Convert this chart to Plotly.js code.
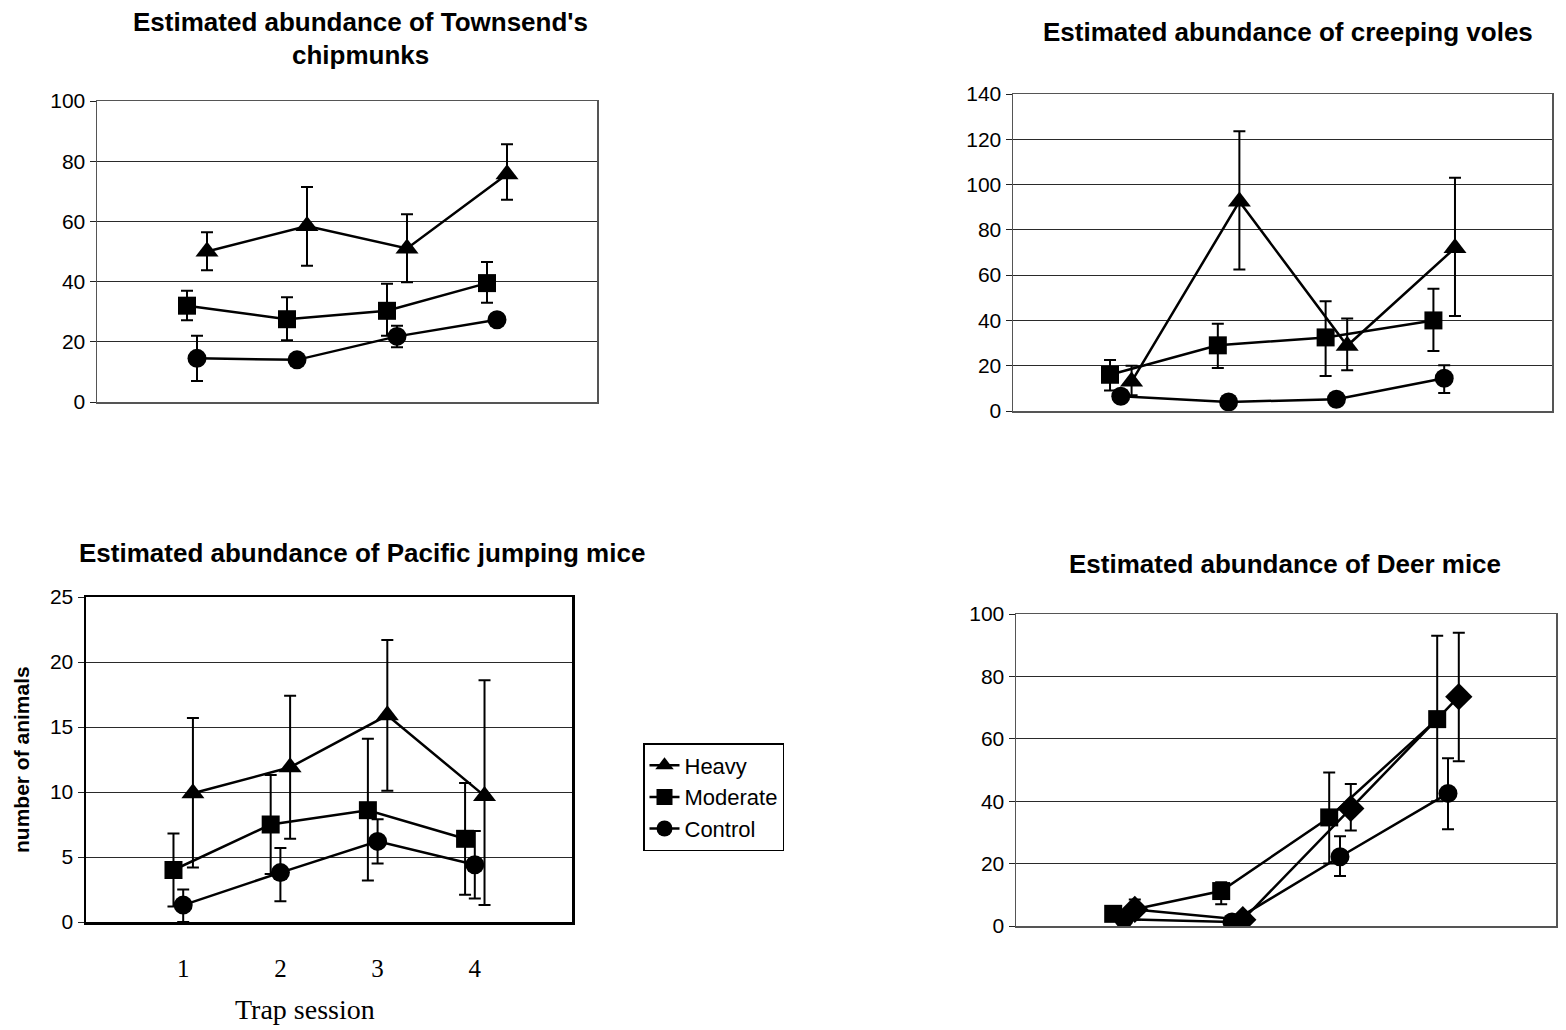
<!DOCTYPE html>
<html>
<head>
<meta charset="utf-8">
<script src="https://cdn.plot.ly/plotly-3.0.1.min.js"></script>
<style>html,body{margin:0;padding:0;background:#fff;}#chart{width:1566px;height:1030px;}</style>
</head>
<body>
<div id="chart"></div>
<script>
// ---- data ----
const sessions = [1, 2, 3, 4];
const seriesNames = ["Heavy", "Moderate", "Control"];

// Townsend's chipmunks
const chipHeavy = [50, 58.5, 51, 75.7];
const chipHeavyHi = [56.4, 71.4, 62.4, 85.6];
const chipHeavyLo = [43.8, 45.3, 39.8, 67.2];
const chipModerate = [32, 27.5, 30.3, 39.5];
const chipModerateHi = [37, 34.8, 39.3, 46.5];
const chipModerateLo = [27.2, 20.5, 22, 33];
const chipControl = [14.5, 14, 21.8, 27.3];
const chipControlHi = [22, 15, 25.3, 28.3];
const chipControlLo = [7, 13, 18.2, 26.3];

// creeping voles
const voleHeavy = [13, 92.5, 28.8, 72];
const voleHeavyHi = [20, 123.5, 40.8, 103];
const voleHeavyLo = [7, 62.5, 18, 42];
const voleModerate = [16, 29, 32.5, 40];
const voleModerateHi = [22.5, 38.5, 48.5, 54];
const voleModerateLo = [9, 19, 15.5, 26.5];
const voleControl = [6.5, 4, 5.2, 14.5];
const voleControlHi = [9, 5, 8, 20.2];
const voleControlLo = [4, 3, 2.5, 8];

// Pacific jumping mice
const jumpHeavy = [9.9, 11.9, 15.9, 9.7];
const jumpHeavyHi = [15.7, 17.4, 21.7, 18.6];
const jumpHeavyLo = [4.2, 6.4, 10.1, 1.3];
const jumpModerate = [4.0, 7.5, 8.6, 6.4];
const jumpModerateHi = [6.8, 11.3, 14.1, 10.7];
const jumpModerateLo = [1.2, 3.7, 3.2, 2.1];
const jumpControl = [1.3, 3.8, 6.2, 4.4];
const jumpControlHi = [2.5, 5.7, 7.9, 7.0];
const jumpControlLo = [0, 1.6, 4.5, 1.8];

// Deer mice
const deerHeavy = [5.3, 2, 37.7, 73.5];
const deerHeavyHi = [8.5, 3, 45.5, 94];
const deerHeavyLo = [2, 1, 30.6, 52.8];
const deerModerate = [3.9, 11.2, 34.8, 66.3];
const deerModerateHi = [5, 14, 49.2, 93];
const deerModerateLo = [2.8, 7, 20, 40];
const deerControl = [2.2, 1.3, 22.2, 42.5];
const deerControlHi = [3, 2, 28.8, 53.8];
const deerControlLo = [1.5, 0.5, 16, 31];

const panelTitles = [
  "Estimated abundance of Townsend's",
  "chipmunks",
  "Estimated abundance of creeping voles",
  "Estimated abundance of Pacific jumping mice",
  "Estimated abundance of Deer mice"
];
const xTickLabels = ["1", "2", "3", "4"];
const yAxisLabel = "number of animals";
const xAxisLabel = "Trap session";

// ---- layout helpers ----
const W = 1566, H = 1030;
const px = v => v / W;
const py = v => 1 - v / H;
const SANS = 'Arial, "Liberation Sans", sans-serif';
const SERIF = '"Times New Roman", "Liberation Serif", serif';

const offsets = { Heavy: 0.1, Moderate: -0.1, Control: 0 };
const symbols = { Heavy: 'triangle-up', Moderate: 'square', Control: 'circle' };
const msize = { Heavy: 20, Moderate: 18, Control: 19, diamond: 21 };

function mk(name, y, hi, lo, xa, ya, showlegend, symbolOverride) {
  return {
    type: 'scatter', mode: 'lines+markers', name: name,
    x: sessions.map(s => s + offsets[name]),
    y: y,
    xaxis: xa, yaxis: ya, showlegend: showlegend,
    line: { color: '#000', width: 2.5 },
    marker: { symbol: symbolOverride || symbols[name], size: symbolOverride ? msize.diamond : msize[name], color: '#000' },
    error_y: {
      type: 'data', symmetric: false,
      array: hi.map((h, i) => h - y[i]),
      arrayminus: lo.map((l, i) => y[i] - l),
      color: '#000', thickness: 2, width: 6
    },
    hoverinfo: 'x+y'
  };
}

const traces = [
  mk('Heavy', chipHeavy, chipHeavyHi, chipHeavyLo, 'x', 'y', false),
  mk('Moderate', chipModerate, chipModerateHi, chipModerateLo, 'x', 'y', false),
  mk('Control', chipControl, chipControlHi, chipControlLo, 'x', 'y', false),

  mk('Heavy', voleHeavy, voleHeavyHi, voleHeavyLo, 'x2', 'y2', false),
  mk('Moderate', voleModerate, voleModerateHi, voleModerateLo, 'x2', 'y2', false),
  mk('Control', voleControl, voleControlHi, voleControlLo, 'x2', 'y2', false),

  mk('Heavy', jumpHeavy, jumpHeavyHi, jumpHeavyLo, 'x3', 'y3', true),
  mk('Moderate', jumpModerate, jumpModerateHi, jumpModerateLo, 'x3', 'y3', true),
  mk('Control', jumpControl, jumpControlHi, jumpControlLo, 'x3', 'y3', true),

  mk('Heavy', deerHeavy, deerHeavyHi, deerHeavyLo, 'x4', 'y4', false, 'diamond'),
  mk('Moderate', deerModerate, deerModerateHi, deerModerateLo, 'x4', 'y4', false),
  mk('Control', deerControl, deerControlHi, deerControlLo, 'x4', 'y4', false)
];

function xax(l, r, anchor, showTicks, lineColor, lineWidth) {
  const a = {
    domain: [px(l), px(r)], anchor: anchor, range: [0, 5],
    showgrid: false, zeroline: false, showline: true, mirror: true,
    linecolor: lineColor, linewidth: lineWidth, fixedrange: true
  };
  if (showTicks) {
    a.tickmode = 'array'; a.tickvals = sessions; a.ticktext = xTickLabels;
    a.ticks = ''; a.ticklabelstandoff = 22;
    a.tickfont = { family: SERIF, size: 25, color: '#000' };
  } else {
    a.showticklabels = false; a.ticks = '';
  }
  return a;
}
function yax(t, b, anchor, max, dtick, lineColor, lineWidth) {
  return {
    domain: [py(b), py(t)], anchor: anchor, range: [0, max], dtick: dtick,
    showgrid: true, gridcolor: '#2a2a2a', gridwidth: 1, zeroline: false,
    showline: true, mirror: true, linecolor: lineColor, linewidth: lineWidth,
    ticks: 'outside', ticklen: 6, tickcolor: '#222', tickwidth: 1,
    tickfont: { family: SANS, size: 21, color: '#000' }, fixedrange: true
  };
}

const titleFont = { family: SANS, size: 26, color: '#000' };
function ann(text, x, y, font, extra) {
  return Object.assign({
    text: text, xref: 'paper', yref: 'paper', x: px(x), y: py(y),
    xanchor: 'center', yanchor: 'middle', showarrow: false, font: font
  }, extra || {});
}

const layout = {
  width: W, height: H, margin: { l: 0, r: 0, t: 0, b: 0 },
  paper_bgcolor: '#fff', plot_bgcolor: '#fff',
  xaxis: xax(97, 597, 'y', false, '#555', 1.5),
  yaxis: yax(101, 402, 'x', 100, 20, '#555', 1.5),
  xaxis2: xax(1013, 1552, 'y2', false, '#555', 1.5),
  yaxis2: yax(94, 411, 'x2', 140, 20, '#555', 1.5),
  xaxis3: xax(86, 572, 'y3', true, '#000', 2.5),
  yaxis3: yax(597, 922, 'x3', 25, 5, '#000', 2.5),
  xaxis4: xax(1016, 1556, 'y4', false, '#555', 1.5),
  yaxis4: yax(614, 926, 'x4', 100, 20, '#555', 1.5),
  showlegend: true,
  legend: {
    x: px(643), y: py(743), xanchor: 'left', yanchor: 'top',
    bgcolor: '#fff', bordercolor: '#000', borderwidth: 1.5,
    font: { family: SANS, size: 22, color: '#000' },
    traceorder: 'normal'
  },
  annotations: [
    ann('<b>' + panelTitles[0] + '</b>', 360, 22, titleFont),
    ann('<b>' + panelTitles[1] + '</b>', 360, 55, titleFont),
    ann('<b>' + panelTitles[2] + '</b>', 1288, 32, titleFont),
    ann('<b>' + panelTitles[3] + '</b>', 362, 553, titleFont),
    ann('<b>' + panelTitles[4] + '</b>', 1285, 564, titleFont),
    ann('<b>' + yAxisLabel + '</b>', 21, 760, { family: SANS, size: 21, color: '#000' }, { textangle: -90 }),
    ann(xAxisLabel, 305, 1009, { family: SERIF, size: 28, color: '#000' })
  ]
};

Plotly.newPlot('chart', traces, layout, { staticPlot: true, displayModeBar: false });
</script>
</body>
</html>
